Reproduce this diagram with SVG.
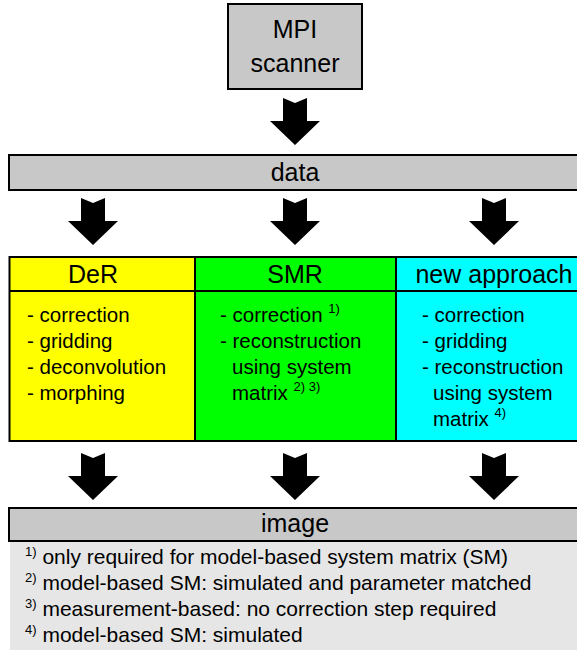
<svg xmlns="http://www.w3.org/2000/svg" xmlns:xlink="http://www.w3.org/1999/xlink" width="577" height="652" viewBox="0 0 577 652">
  <style>
    text { font-family: "Liberation Sans", Arial, sans-serif; fill: #000; }
    .title { font-size: 25px; text-anchor: middle; }
    .item { font-size: 20.5px; }
    .note { font-size: 21px; }
    .sup { font-size: 13px; }
    .box { stroke: #000; stroke-width: 2; }
    .gray { fill: #c8c8c8; }
    .arrow { fill: #000; }
  </style>
  <defs>
    <!-- block arrow with notched tail, origin at tail centre -->
    <path id="blockArrow" d="M-12,0 L0,5 L12,0 L12,23 L25,23 L0,47 L-25,23 L-12,23 Z"/>
  </defs>

  <rect width="577" height="652" fill="#fff"/>

  <g id="scanner">
    <rect class="box gray" x="228" y="4" width="134" height="85"/>
    <text class="title" x="295" y="38">MPI</text>
    <text class="title" x="295" y="72">scanner</text>
  </g>

  <g id="data">
    <rect class="box gray" x="9" y="155" width="580" height="35"/>
    <text class="title" x="295" y="181">data</text>
  </g>

  <g id="der">
    <rect class="box" fill="#ffff00" x="9.5" y="257" width="185.5" height="184"/>
    <line class="box" x1="9.5" y1="291" x2="195" y2="291"/>
    <text class="title" x="93" y="283">DeR</text>
    <text class="item" x="27" y="322">- correction</text>
    <text class="item" x="27" y="348">- gridding</text>
    <text class="item" x="27" y="374">- deconvolution</text>
    <text class="item" x="27" y="400">- morphing</text>
  </g>

  <g id="smr">
    <rect class="box" fill="#00ff00" x="195" y="257" width="201" height="184"/>
    <line class="box" x1="195" y1="291" x2="396" y2="291"/>
    <text class="title" x="295" y="283">SMR</text>
    <text class="item" x="220" y="322">- correction <tspan class="sup" dy="-9">1)</tspan></text>
    <text class="item" x="220" y="348">- reconstruction</text>
    <text class="item" x="232" y="374">using system</text>
    <text class="item" x="232" y="400">matrix <tspan class="sup" dy="-9">2) 3)</tspan></text>
  </g>

  <g id="newApproach">
    <rect class="box" fill="#00ffff" x="396" y="257" width="194" height="184"/>
    <line class="box" x1="396" y1="291" x2="590" y2="291"/>
    <text class="title" x="494" y="283">new approach</text>
    <text class="item" x="422" y="322">- correction</text>
    <text class="item" x="422" y="348">- gridding</text>
    <text class="item" x="422" y="374">- reconstruction</text>
    <text class="item" x="433" y="400">using system</text>
    <text class="item" x="433" y="426">matrix <tspan class="sup" dy="-9">4)</tspan></text>
  </g>

  <g id="image">
    <rect class="box gray" x="9" y="508" width="580" height="33"/>
    <text class="title" x="295" y="532">image</text>
  </g>

  <g id="footnotes">
    <rect x="10" y="542" width="567" height="108" fill="#e6e6e6"/>
    <text class="note" x="25" y="564"><tspan class="sup" dy="-8">1)</tspan><tspan dy="8"> only required for model-based system matrix (SM)</tspan></text>
    <text class="note" x="25" y="590"><tspan class="sup" dy="-8">2)</tspan><tspan dy="8"> model-based SM: simulated and parameter matched</tspan></text>
    <text class="note" x="25" y="616"><tspan class="sup" dy="-8">3)</tspan><tspan dy="8"> measurement-based: no correction step required</tspan></text>
    <text class="note" x="25" y="642"><tspan class="sup" dy="-8">4)</tspan><tspan dy="8"> model-based SM: simulated</tspan></text>
  </g>

  <g id="connectors" class="arrow">
    <use xlink:href="#blockArrow" x="295" y="98"/>
    <use xlink:href="#blockArrow" x="93" y="198"/>
    <use xlink:href="#blockArrow" x="295" y="198"/>
    <use xlink:href="#blockArrow" x="494" y="198"/>
    <use xlink:href="#blockArrow" x="93" y="453"/>
    <use xlink:href="#blockArrow" x="295" y="453"/>
    <use xlink:href="#blockArrow" x="494" y="453"/>
  </g>
</svg>
